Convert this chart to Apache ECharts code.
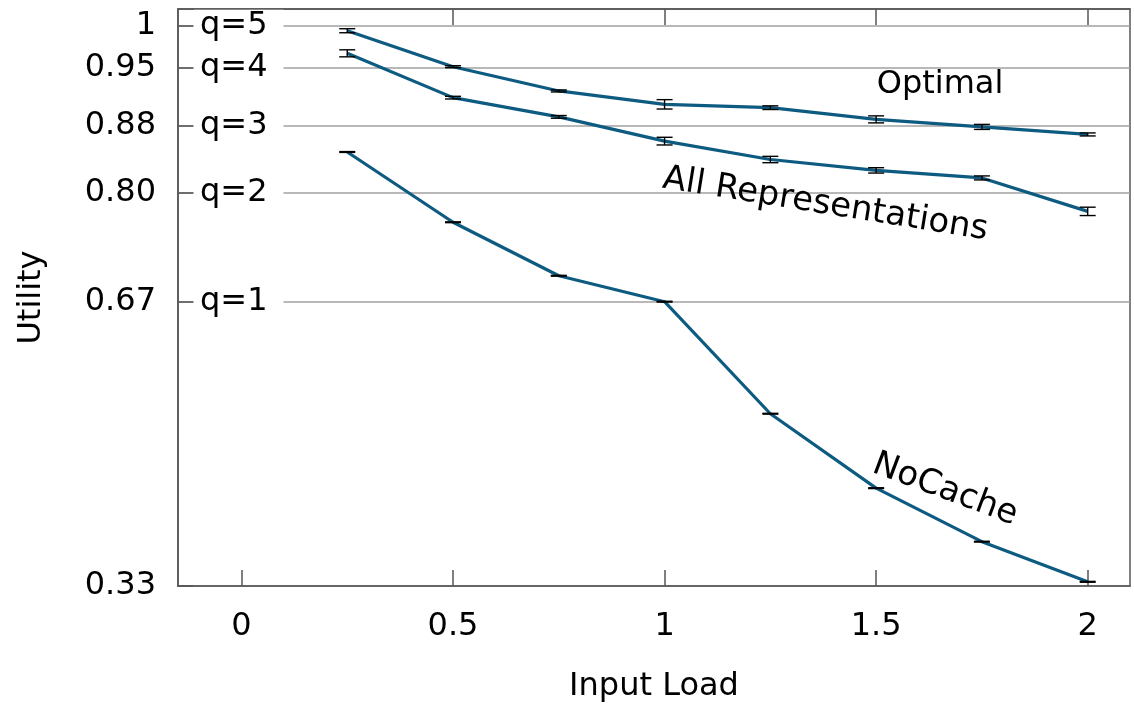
<!DOCTYPE html>
<html>
<head>
<meta charset="utf-8">
<script src="https://cdn.jsdelivr.net/npm/echarts@6/dist/echarts.min.js"></script>
<style>
  html, body { margin: 0; padding: 0; background: #fff; }
  #chart { width: 1134px; height: 704px; }
</style>
</head>
<body>
<div id="chart"></div>
<script>
// Input load levels
const loads = [0.25, 0.5, 0.75, 1, 1.25, 1.5, 1.75, 2];

// Mean utility per strategy and half-width of the error bars
const optimal = [0.994, 0.951, 0.922, 0.906, 0.902, 0.888, 0.879, 0.870];
const optimalErr = [0.0024, 0.0012, 0.0012, 0.0056, 0.0022, 0.0042, 0.0030, 0.0018];
const allReps = [0.967, 0.914, 0.891, 0.862, 0.840, 0.827, 0.818, 0.778];
const allRepsErr = [0.0042, 0.0016, 0.0016, 0.0046, 0.0038, 0.0032, 0.0024, 0.0050];
const noCache = [0.849, 0.765, 0.701, 0.670, 0.536, 0.447, 0.383, 0.335];
const noCacheErr = [0.0005, 0.0005, 0.0005, 0.0005, 0.0005, 0.0005, 0.0005, 0.0005];

// Utility ticks and the quality level each one corresponds to
const utilityTicks = [0.33, 0.67, 0.80, 0.88, 0.95, 1];
const utilityTickLabels = ['0.33', '0.67', '0.80', '0.88', '0.95', '1'];
const qualityLabels = ['', 'q=1', 'q=2', 'q=3', 'q=4', 'q=5'];
const loadTicks = [0, 0.5, 1, 1.5, 2];

// Curve annotations: [text, load, utility, rotation in degrees, font size]
const curveNotes = [
  ['Optimal', 1.651, 0.930, 0, 32],
  ['All Representations', 1.380, 0.786, -9.1, 34],
  ['NoCache', 1.663, 0.445, -20.5, 34]
];

const LINE = '#0e5b82';
const FONT = 'DejaVu Sans';
const FS = 32;

function pairs(xs, ys) { return xs.map((x, i) => [x, ys[i]]); }
function errRows(xs, ys, es) { return xs.map((x, i) => [x, ys[i] - es[i], ys[i] + es[i]]); }

function errorBarSeries(rows) {
  return {
    type: 'custom',
    z: 5,
    data: rows,
    renderItem: function (params, api) {
      const lo = api.coord([api.value(0), api.value(1)]);
      const hi = api.coord([api.value(0), api.value(2)]);
      const half = 8;
      const st = { stroke: '#000', lineWidth: 1.4 };
      return {
        type: 'group',
        children: [
          { type: 'line', shape: { x1: lo[0], y1: lo[1], x2: hi[0], y2: hi[1] }, style: st },
          { type: 'line', shape: { x1: lo[0] - half, y1: lo[1], x2: lo[0] + half, y2: lo[1] }, style: st },
          { type: 'line', shape: { x1: hi[0] - half, y1: hi[1], x2: hi[0] + half, y2: hi[1] }, style: st }
        ]
      };
    }
  };
}

function lineSeries(values) {
  return {
    type: 'line',
    data: pairs(loads, values),
    showSymbol: false,
    symbol: 'none',
    z: 4,
    lineStyle: { color: LINE, width: 3.2 }
  };
}

const chart = echarts.init(document.getElementById('chart'), null, { renderer: 'canvas' });

const xCommon = {
  type: 'value',
  min: -0.15,
  max: 2.1,
  axisLine: { show: true, onZero: false, lineStyle: { color: '#555', width: 1.5 } },
  axisTick: { show: true, inside: true, length: 16, customValues: loadTicks, lineStyle: { color: '#555', width: 1.5 } },
  splitLine: { show: false }
};

chart.setOption({
  animation: false,
  backgroundColor: '#fff',
  grid: {
    left: 178, right: 4, top: 9, bottom: 118,
    outerBoundsMode: 'none',
    containLabel: false,
    show: true, borderColor: '#555', borderWidth: 1.5, backgroundColor: 'transparent'
  },
  xAxis: [
    Object.assign({}, xCommon, {
      position: 'bottom',
      name: 'Input Load',
      nameLocation: 'middle',
      nameGap: 85,
      nameTextStyle: { fontFamily: FONT, fontSize: FS, color: '#000' },
      axisLabel: { customValues: loadTicks, fontFamily: FONT, fontSize: FS, color: '#000', margin: 25,
        formatter: v => String(v) }
    }),
    Object.assign({}, xCommon, {
      position: 'top',
      axisLabel: { show: false }
    })
  ],
  yAxis: [
    {
      type: 'value',
      min: 0.33,
      max: 1.02,
      position: 'left',
      name: 'Utility',
      nameLocation: 'middle',
      nameRotate: 90,
      nameGap: 130,
      nameTextStyle: { fontFamily: FONT, fontSize: FS, color: '#000' },
      axisLine: { show: true, onZero: false, lineStyle: { color: '#555', width: 1.5 } },
      axisTick: { show: true, inside: true, length: 15, customValues: utilityTicks, lineStyle: { color: '#555', width: 1.5 } },
      axisLabel: {
        customValues: utilityTicks, fontFamily: FONT, fontSize: FS, color: '#000', margin: 22,
        formatter: v => utilityTickLabels[utilityTicks.indexOf(v)] || ''
      },
      splitLine: { show: true, customValues: utilityTicks, lineStyle: { color: '#a0a0a0', width: 1.5 } }
    },
    {
      type: 'value',
      min: 0.33,
      max: 1.02,
      position: 'left',
      axisLine: { show: false, onZero: false },
      axisTick: { show: false },
      splitLine: { show: false },
      axisLabel: {
        inside: true,
        customValues: utilityTicks,
        fontFamily: FONT, fontSize: FS, color: '#000', margin: 16,
        backgroundColor: '#fff',
        padding: [0, 16, 0, 6],
        formatter: v => qualityLabels[utilityTicks.indexOf(v)] || ''
      }
    }
  ],
  series: [
    lineSeries(optimal),
    lineSeries(allReps),
    lineSeries(noCache),
    errorBarSeries(errRows(loads, optimal, optimalErr)),
    errorBarSeries(errRows(loads, allReps, allRepsErr)),
    errorBarSeries(errRows(loads, noCache, noCacheErr))
  ]
});

// Curve names placed at their data positions
const notes = curveNotes.map(n => {
  const p = chart.convertToPixel({ xAxisIndex: 0, yAxisIndex: 0 }, [n[1], n[2]]);
  return {
    type: 'text',
    x: p[0], y: p[1],
    rotation: n[3] * Math.PI / 180,
    z: 10,
    style: { text: n[0], fontFamily: FONT, fontSize: n[4], fill: '#000', align: 'center', verticalAlign: 'middle' }
  };
});
chart.setOption({ graphic: notes });
</script>
</body>
</html>
